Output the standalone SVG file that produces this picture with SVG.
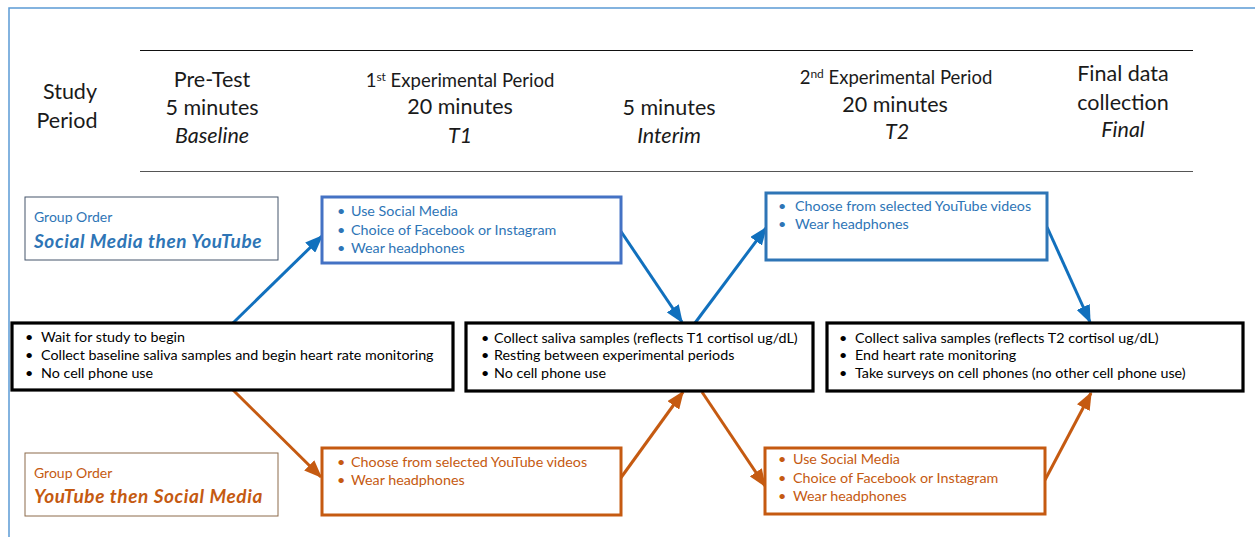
<svg xmlns="http://www.w3.org/2000/svg" width="1255" height="537" viewBox="0 0 1255 537">
<defs>
<style>
text{font-family:Lato,"Liberation Sans",sans-serif;}
.hd{font-size:21.5px;fill:#1a1a1a;text-anchor:middle;}
.hs{font-size:18.5px;fill:#1a1a1a;text-anchor:middle;}
.it{font-style:italic;}
.body{font-size:14.3px;fill:#000;}
.bl{font-size:14.3px;fill:#2e75b6;}
.or{font-size:14.3px;fill:#c55a11;}
.go{font-size:14px;}
.gt{font-size:19px;font-weight:bold;font-style:italic;letter-spacing:0.6px;}
.k{fill:#fff;stroke:#000;stroke-width:3.2;}
.bb1{fill:#fff;stroke:#4472c4;stroke-width:3;}
.bb2{fill:#fff;stroke:#2e75b6;stroke-width:3;}
.ob{fill:#fff;stroke:#c55a11;stroke-width:3;}
.ab{stroke:#1170bd;stroke-width:3;fill:none;}
.ao{stroke:#c55a11;stroke-width:3;fill:none;}
</style>
<marker id="mb" viewBox="0 0 6 4.8" refX="5.5" refY="2.4" markerWidth="6" markerHeight="4.8" orient="auto" markerUnits="strokeWidth"><path d="M0,0 L6,2.4 L0,4.8 z" fill="#1170bd"/></marker>
<marker id="mo" viewBox="0 0 6 4.8" refX="5.5" refY="2.4" markerWidth="6" markerHeight="4.8" orient="auto" markerUnits="strokeWidth"><path d="M0,0 L6,2.4 L0,4.8 z" fill="#c55a11"/></marker>
</defs>
<rect width="1255" height="537" fill="#fff"/>
<rect x="9" y="8" width="1260" height="540" fill="none" stroke="#5b9bd5" stroke-width="1.5"/>

<g id="header">
<line x1="140" y1="50.5" x2="1193" y2="50.5" stroke="#111" stroke-width="1.2"/>
<line x1="140" y1="171.5" x2="1193" y2="171.5" stroke="#555" stroke-width="1.2"/>
<text class="hd" x="70" y="99">Study</text>
<text class="hd" x="67" y="128">Period</text>
<text class="hd" x="212" y="87">Pre-Test</text>
<text class="hd" x="212" y="115">5 minutes</text>
<text class="hd it" x="212" y="143">Baseline</text>
<text class="hs" x="460" y="87">1<tspan font-size="12" dy="-6">st</tspan><tspan dy="6"> Experimental Period</tspan></text>
<text class="hd" x="460" y="114">20 minutes</text>
<text class="hd it" x="460" y="143">T1</text>
<text class="hd" x="669" y="115">5 minutes</text>
<text class="hd it" x="669" y="143">Interim</text>
<text class="hs" x="896" y="84">2<tspan font-size="12" dy="-6">nd</tspan><tspan dy="6"> Experimental Period</tspan></text>
<text class="hd" x="895" y="112">20 minutes</text>
<text class="hd it" x="897" y="139">T2</text>
<text class="hd" x="1123" y="81">Final data</text>
<text class="hd" x="1123" y="110">collection</text>
<text class="hd it" x="1123" y="137">Final</text>
</g>

<g id="connectors">
<line class="ab" x1="233" y1="323" x2="322" y2="236" marker-end="url(#mb)"/>
<line class="ab" x1="620" y1="230" x2="682" y2="322" marker-end="url(#mb)"/>
<line class="ab" x1="695" y1="323" x2="766" y2="228" marker-end="url(#mb)"/>
<line class="ab" x1="1047" y1="227" x2="1090" y2="322" marker-end="url(#mb)"/>
<line class="ao" x1="233" y1="390" x2="321" y2="477" marker-end="url(#mo)"/>
<line class="ao" x1="620" y1="479" x2="683" y2="392" marker-end="url(#mo)"/>
<line class="ao" x1="702" y1="392" x2="765" y2="486" marker-end="url(#mo)"/>
<line class="ao" x1="1045" y1="480" x2="1091" y2="393" marker-end="url(#mo)"/>
</g>

<g id="group-sm">
<rect x="25" y="197" width="253" height="63" fill="#fff" stroke="#44546a" stroke-width="1"/>
<text class="go" x="34" y="222" fill="#2e75b6">Group Order</text>
<text class="gt" x="34" y="248" fill="#2e75b6">Social Media then YouTube</text>
</g>

<g id="group-yt">
<rect x="25" y="453" width="253" height="63" fill="#fff" stroke="#8c6b4a" stroke-width="1"/>
<text class="go" x="34" y="478" fill="#c55a11">Group Order</text>
<text class="gt" x="34" y="503" fill="#c55a11">YouTube then Social Media</text>
</g>

<g id="pretest">
<rect class="k" x="12" y="323" width="441" height="67"/>
<text class="body" x="25" y="342">•</text><text class="body" x="41" y="342">Wait for study to begin</text>
<text class="body" x="25" y="360">•</text><text class="body" x="41" y="360">Collect baseline saliva samples and begin heart rate monitoring</text>
<text class="body" x="25" y="378">•</text><text class="body" x="41" y="378">No cell phone use</text>
</g>

<g id="t1-social">
<rect class="bb1" x="322" y="197" width="299" height="66"/>
<text class="bl" x="337" y="216">•</text><text class="bl" x="351" y="216">Use Social Media</text>
<text class="bl" x="337" y="235">•</text><text class="bl" x="351" y="235">Choice of Facebook or Instagram</text>
<text class="bl" x="337" y="253">•</text><text class="bl" x="351" y="253">Wear headphones</text>
</g>

<g id="t1-youtube">
<rect class="ob" x="322" y="448" width="299" height="67"/>
<text class="or" x="337" y="467">•</text><text class="or" x="351" y="467">Choose from selected YouTube videos</text>
<text class="or" x="337" y="485">•</text><text class="or" x="351" y="485">Wear headphones</text>
</g>

<g id="interim">
<rect class="k" x="466" y="323" width="347" height="68"/>
<text class="body" x="481" y="343">•</text><text class="body" x="494" y="343">Collect saliva samples (reflects T1 cortisol ug/dL)</text>
<text class="body" x="481" y="360">•</text><text class="body" x="494" y="360">Resting between experimental periods</text>
<text class="body" x="481" y="378">•</text><text class="body" x="494" y="378">No cell phone use</text>
</g>

<g id="t2-youtube">
<rect class="bb2" x="766" y="193" width="281" height="67"/>
<text class="bl" x="778" y="211">•</text><text class="bl" x="795" y="211">Choose from selected YouTube videos</text>
<text class="bl" x="778" y="229">•</text><text class="bl" x="795" y="229">Wear headphones</text>
</g>

<g id="t2-social">
<rect class="ob" x="765" y="448" width="280" height="66"/>
<text class="or" x="778" y="464">•</text><text class="or" x="793" y="464">Use Social Media</text>
<text class="or" x="778" y="483">•</text><text class="or" x="793" y="483">Choice of Facebook or Instagram</text>
<text class="or" x="778" y="501">•</text><text class="or" x="793" y="501">Wear headphones</text>
</g>

<g id="final">
<rect class="k" x="827" y="323" width="416" height="68"/>
<text class="body" x="839" y="343">•</text><text class="body" x="855" y="343">Collect saliva samples (reflects T2 cortisol ug/dL)</text>
<text class="body" x="839" y="360">•</text><text class="body" x="855" y="360">End heart rate monitoring</text>
<text class="body" x="839" y="378">•</text><text class="body" x="855" y="378">Take surveys on cell phones (no other cell phone use)</text>
</g>
</svg>
